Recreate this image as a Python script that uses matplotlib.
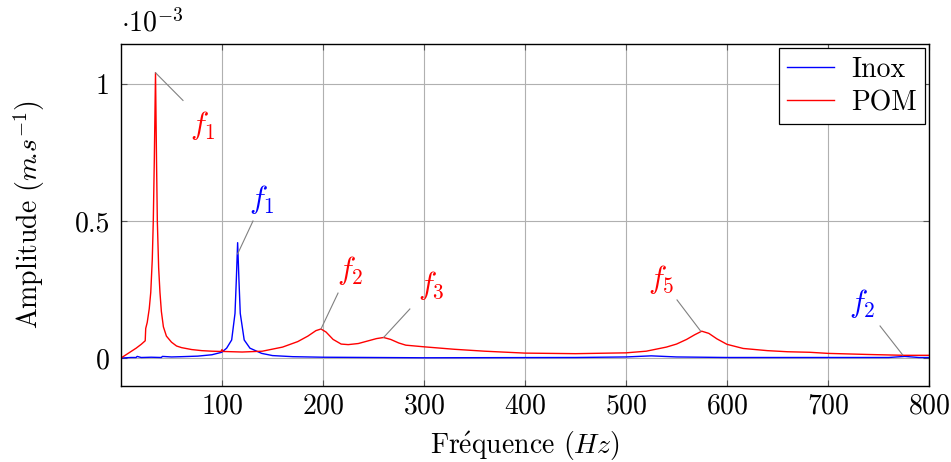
import numpy as np
import matplotlib
matplotlib.use("Agg")
import matplotlib.pyplot as plt

# spectres (amplitude en 1e-3 m/s)
pom_freq = [0, 5, 10, 15, 20, 24, 24.5, 26, 28, 29.5, 31, 32, 33, 34.2, 35.2, 36,
            37.3, 38.6, 40, 42, 45, 50, 55, 60, 70, 80, 90, 99, 100, 101, 120, 140,
            160, 175, 185, 193, 198, 203, 210, 218, 225, 235, 245, 253, 260, 267,
            275, 282, 300, 330, 360, 400, 450, 500, 520, 540, 550, 560, 568, 575,
            582, 590, 600, 616, 640, 660, 682, 700, 740, 775, 800]
pom_amp = [0.0, 0.012, 0.024, 0.036, 0.05, 0.063, 0.108, 0.13, 0.18, 0.24, 0.36,
           0.5, 0.72, 1.041, 0.72, 0.5, 0.33, 0.24, 0.17, 0.114, 0.08, 0.058, 0.044,
           0.038, 0.031, 0.027, 0.025, 0.024, 0.031, 0.024, 0.022, 0.025, 0.04,
           0.06, 0.08, 0.1, 0.106, 0.095, 0.068, 0.051, 0.049, 0.053, 0.063, 0.071,
           0.075, 0.068, 0.055, 0.047, 0.041, 0.032, 0.025, 0.018, 0.016, 0.019,
           0.025, 0.04, 0.051, 0.068, 0.085, 0.098, 0.09, 0.07, 0.05, 0.035, 0.027,
           0.023, 0.021, 0.017, 0.013, 0.010, 0.010]

inox_freq = [0, 10, 15, 16, 20, 30, 40, 41, 50, 60, 76, 90, 99.7, 104.6, 109.6,
             112.9, 114.2, 115.5, 116.8, 118.1, 122, 127.7, 139.3, 150, 170, 200,
             300, 450, 500, 525, 550, 600, 700, 760, 776, 790, 800]
inox_amp = [0.0, 0.002, 0.002, 0.006, 0.002, 0.003, 0.002, 0.006, 0.004, 0.005,
            0.007, 0.012, 0.021, 0.036, 0.066, 0.163, 0.285, 0.421, 0.285, 0.163,
            0.066, 0.036, 0.017, 0.009, 0.005, 0.003, 0.001, 0.002, 0.004, 0.008,
            0.004, 0.002, 0.002, 0.002, 0.006, 0.002, 0.002]

pom_amp = np.array(pom_amp) * 1e-3
inox_amp = np.array(inox_amp) * 1e-3

plt.rcParams['font.family'] = ['cmr10', 'DejaVu Serif']
plt.rcParams['mathtext.fontset'] = 'cm'
plt.rcParams['axes.formatter.use_mathtext'] = True
fs = 20

fig = plt.figure(figsize=(9.51, 4.62), dpi=100)
ax = fig.add_axes([0.1272, 0.1645, 0.8497, 0.7403])

ax.plot(inox_freq, inox_amp, color='blue', lw=1.0, label='Inox')
ax.plot(pom_freq, pom_amp, color='red', lw=1.0, label='POM')

ax.set_xlim(0, 800)
ax.set_ylim(-0.102e-3, 1.146e-3)
ax.set_xticks([100, 200, 300, 400, 500, 600, 700, 800])
ax.set_yticks([0, 0.5e-3, 1e-3])
ax.set_yticklabels(['0', '0.5', '1'])
ax.grid(True, color='#b0b0b0', lw=0.8)
ax.set_axisbelow(True)
ax.tick_params(direction='in', length=4, labelsize=fs, top=True, right=True,
               color='#555555')
ax.tick_params(axis='x', pad=5)
ax.tick_params(axis='y', pad=8)
for s in ax.spines.values():
    s.set_linewidth(1.0)

ax.set_xlabel(r'Fr$\mathrm{\acute{e}}$quence $(Hz)$', fontsize=fs, labelpad=7)
ax.set_ylabel(r'Amplitude $(m\!.\!s^{-1})$', fontsize=fs, labelpad=20)
ax.text(0.0, 1.02, r'$\cdot 10^{-3}$', transform=ax.transAxes, fontsize=fs,
        ha='left', va='bottom')

# annotations des pics
notes = [
    (34.2, 1.041, 61.4, 0.94, 81, 0.85, 'red', r'$f_1$'),
    (115.5, 0.38, 130.7, 0.50, 139.6, 0.577, 'blue', r'$f_1$'),
    (198, 0.106, 214.9, 0.237, 226.7, 0.32, 'red', r'$f_2$'),
    (260, 0.075, 286, 0.179, 307, 0.263, 'red', r'$f_3$'),
    (574, 0.098, 550.5, 0.212, 534.7, 0.288, 'red', r'$f_5$'),
    (774, 0.011, 751.5, 0.117, 733.7, 0.20, 'blue', r'$f_2$'),
]
for x0, y0, x1, y1, xt, yt, c, lab in notes:
    ax.plot([x0, x1], [y0 * 1e-3, y1 * 1e-3], color='gray', lw=0.8)
    ax.text(xt, yt * 1e-3, lab, color=c, fontsize=fs + 2, ha='center', va='center')

leg = ax.legend(loc='upper right', fontsize=fs, fancybox=False, framealpha=1,
                edgecolor='black', handlelength=1.7, handletextpad=0.6,
                borderaxespad=0.15, labelspacing=0.25, borderpad=0.3)
leg.get_frame().set_linewidth(0.9)

fig.savefig('out.png', dpi=100)
